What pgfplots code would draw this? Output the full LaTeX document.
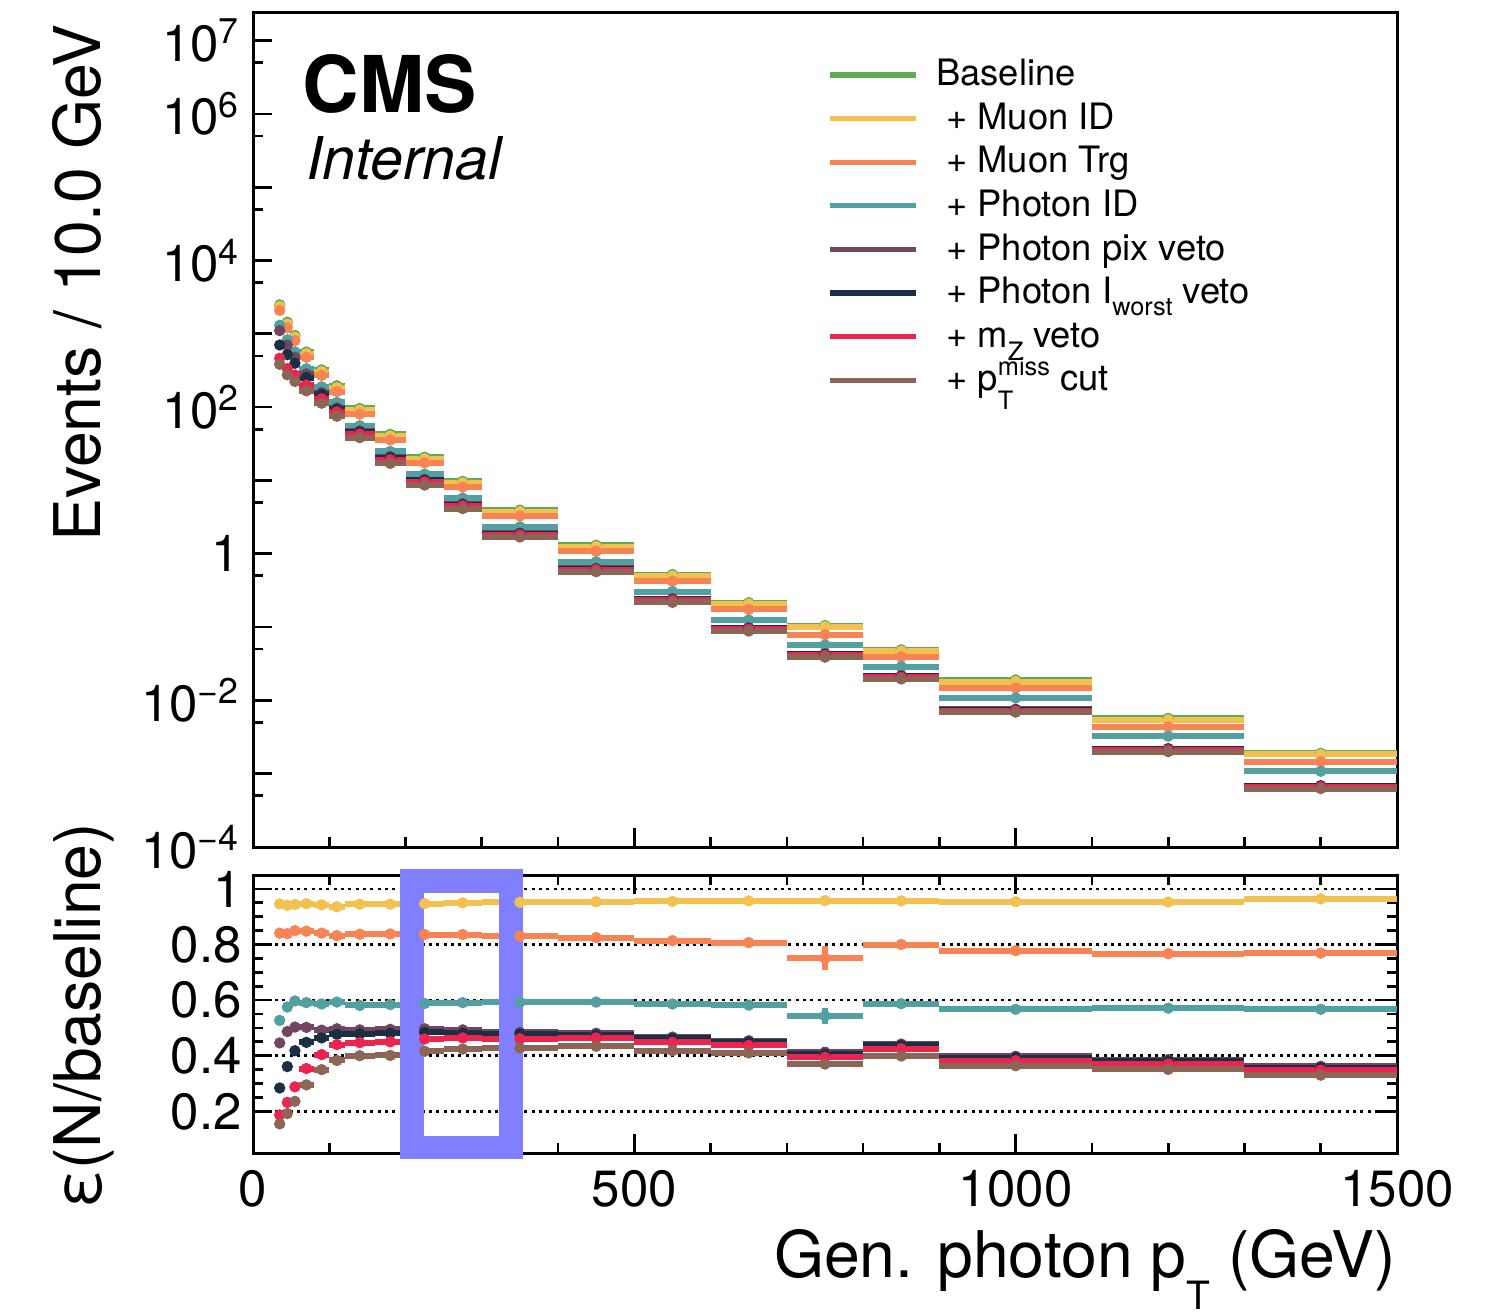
\documentclass[border=0pt]{standalone}
\usepackage{amsmath}
\usepackage{pgfplots}
\pgfplotsset{compat=1.18}
\usepackage{pgfplotstable}
\usepackage{fontspec}
\setmainfont{TeX Gyre Heros}

\definecolor{cBase}{RGB}{94,172,86}
\definecolor{cMuID}{RGB}{243,193,79}
\definecolor{cMuTrg}{RGB}{248,131,84}
\definecolor{cPhID}{RGB}{82,160,160}
\definecolor{cPix}{RGB}{114,70,96}
\definecolor{cIso}{RGB}{26,46,68}
\definecolor{cMZ}{RGB}{236,36,80}
\definecolor{cMET}{RGB}{140,101,86}
\definecolor{cBox}{RGB}{128,128,255}

\newcommand{\lsub}[2]{\raisebox{#1}{\fontsize{7.6}{8}\selectfont #2}}

\pgfplotstableread{
x dx base muid mutrg phid pix iso mz met
35 5 2480 2346 2086 1307 1106 704 464 384
45 5 1440 1355 1208 828 701 520 334 276
55 5 950 897 808 567 478 397 274 224
70 10 565 535 479 334 284 253 200 167
90 10 322 304 271 189 158 149 130 113
110 10 196 183 163 116 97.4 93.5 86.2 75.1
140 20 96 90.7 80.4 55.8 47.3 46.0 42.9 38.4
180 20 42.6 40.3 35.7 24.9 21.1 20.5 19.2 17.1
225 25 20.8 19.7 17.4 12.2 10.3 10.1 9.57 8.65
275 25 9.73 9.24 8.13 5.75 4.80 4.68 4.51 4.13
350 50 3.94 3.75 3.27 2.33 1.91 1.88 1.82 1.69
450 50 1.31 1.25 1.08 0.777 0.630 0.621 0.608 0.569
550 50 0.52 0.497 0.423 0.305 0.243 0.240 0.233 0.217
650 50 0.215 0.206 0.174 0.125 0.0976 0.0965 0.0940 0.0882
750 50 0.105 0.101 0.0788 0.0570 0.0433 0.0425 0.0414 0.0389
850 50 0.049 0.0469 0.0392 0.0288 0.0217 0.0214 0.0208 0.0196
1000 100 0.019 0.0181 0.0148 0.0108 0.00756 0.00747 0.00726 0.00692
1200 100 0.0057 0.00543 0.00437 0.00325 0.00220 0.00217 0.00211 0.00200
1400 100 0.0019 0.00183 0.00146 0.00108 0.000688 0.000678 0.000661 0.000627
}\counts

\pgfplotstableread{
x dx muid mutrg phid pix iso mz met ey eo et ep
35 5 0.946 0.841 0.527 0.446 0.284 0.187 0.155 0.003 0.005 0.005 0.006
45 5 0.941 0.839 0.575 0.487 0.361 0.232 0.192 0.003 0.005 0.005 0.006
55 5 0.944 0.850 0.597 0.503 0.418 0.288 0.236 0.003 0.005 0.005 0.006
70 10 0.947 0.848 0.591 0.502 0.448 0.354 0.295 0.003 0.005 0.005 0.006
90 10 0.943 0.841 0.586 0.492 0.464 0.404 0.350 0.003 0.005 0.005 0.006
110 10 0.936 0.832 0.593 0.497 0.477 0.440 0.383 0.003 0.005 0.005 0.006
140 20 0.945 0.837 0.581 0.493 0.479 0.447 0.400 0.003 0.005 0.005 0.006
180 20 0.945 0.838 0.584 0.495 0.481 0.450 0.401 0.003 0.005 0.005 0.006
225 25 0.947 0.836 0.588 0.497 0.484 0.460 0.416 0.003 0.005 0.005 0.006
275 25 0.950 0.836 0.591 0.493 0.481 0.464 0.424 0.003 0.005 0.005 0.006
350 50 0.952 0.830 0.592 0.484 0.478 0.461 0.428 0.003 0.005 0.005 0.006
450 50 0.954 0.825 0.593 0.481 0.474 0.464 0.434 0.004 0.006 0.007 0.008
550 50 0.955 0.814 0.586 0.467 0.462 0.448 0.418 0.004 0.006 0.007 0.008
650 50 0.957 0.807 0.582 0.454 0.449 0.437 0.410 0.004 0.006 0.007 0.008
750 50 0.958 0.750 0.543 0.412 0.405 0.394 0.370 0.010 0.043 0.030 0.018
850 50 0.957 0.800 0.587 0.442 0.437 0.425 0.399 0.005 0.008 0.008 0.010
1000 100 0.954 0.778 0.567 0.398 0.393 0.382 0.364 0.005 0.008 0.008 0.010
1200 100 0.953 0.767 0.571 0.386 0.381 0.370 0.351 0.005 0.008 0.008 0.010
1400 100 0.964 0.769 0.567 0.362 0.357 0.348 0.330 0.005 0.008 0.008 0.010
}\ratios

\pgfplotsset{
  hist/.style={forget plot, only marks, mark=*, mark size=1.5pt, color=#1,
    mark options={draw=none, fill=#1},
    error bars/x dir=both, error bars/x explicit,
    error bars/error bar style={line width=1.8pt, color=#1},
    error bars/error mark=none},
  histe/.style={hist=#1, error bars/y dir=both, error bars/y explicit},
  cmsaxis/.style={
    scale only axis, width=343.2pt,
    xmin=0, xmax=1500,
    tick align=inside,
    major tick length=5.8pt, minor tick length=3pt,
    axis line style={line width=0.9pt},
    tick style={line width=0.8pt, black},
    tick label style={font=\fontsize{15.3}{17}\selectfont},
    label style={font=\fontsize{19.3}{22}\selectfont},
    xtick={0,500,1000,1500}, minor x tick num=4,
  },
}

\begin{document}
\begin{tikzpicture}[x=1pt,y=1pt]
\path[use as bounding box] (0,0) rectangle (450.3,-394.5);

% ---------------- upper panel ----------------
\begin{axis}[cmsaxis,
  at={(75.9pt,-254.1pt)}, anchor=south west,
  height=250.5pt,
  ymode=log, ymin=1e-4, ymax=2.45e7,
  xtick pos=left, ytick pos=left,
  xticklabels={},
  ytick={1e-4,1e-3,1e-2,1e-1,1,1e1,1e2,1e3,1e4,1e5,1e6,1e7},
  yticklabels={10\textsuperscript{−4},,10\textsuperscript{−2},,1,,10\textsuperscript{2},,10\textsuperscript{4},,10\textsuperscript{6},10\textsuperscript{7}},
  minor ytick={5e-4,5e-3,5e-2,0.5,5,50,500,5e3,5e4,5e5,5e6},
  yticklabel style={inner sep=0pt}, yticklabel shift=3.6pt,
  ylabel={Events / 10.0 GeV},
  ylabel style={at={(axis description cs:-0.1337,0.986)}, anchor=base east, inner sep=0pt},
  legend style={at={(axis description cs:0.5018,0.9497)}, anchor=north west,
    draw=none, fill=none, inner sep=0pt, outer sep=0pt,
    font=\fontsize{10.9}{13}\selectfont,
    row sep=0pt, column sep=5.4pt,
    nodes={inner sep=0pt, text height=9.5pt, text depth=3.58pt, anchor=base west}},
  legend cell align=left,
  legend image code/.code={\draw[#1, line width=1.6pt] (0pt,0.32em) -- (25.8pt,0.32em);},
]
\addplot[hist=cBase]  table[x=x, y=base,  x error=dx] {\counts};
\addplot[hist=cMuID]  table[x=x, y=muid,  x error=dx] {\counts};
\addplot[hist=cMuTrg] table[x=x, y=mutrg, x error=dx] {\counts};
\addplot[hist=cPhID]  table[x=x, y=phid,  x error=dx] {\counts};
\addplot[hist=cPix]   table[x=x, y=pix,   x error=dx] {\counts};
\addplot[hist=cIso]   table[x=x, y=iso,   x error=dx] {\counts};
\addplot[hist=cMZ]    table[x=x, y=mz,    x error=dx] {\counts};
\addplot[hist=cMET]   table[x=x, y=met,   x error=dx] {\counts};

\addlegendimage{color=cBase}  \addlegendentry{Baseline}
\addlegendimage{color=cMuID}  \addlegendentry{\hspace{3pt}+ Muon ID}
\addlegendimage{color=cMuTrg} \addlegendentry{\hspace{3pt}+ Muon Trg}
\addlegendimage{color=cPhID}  \addlegendentry{\hspace{3pt}+ Photon ID}
\addlegendimage{color=cPix}   \addlegendentry{\hspace{3pt}+ Photon pix veto}
\addlegendimage{color=cIso}   \addlegendentry{\hspace{3pt}+ Photon I\lsub{-3.5pt}{worst} veto}
\addlegendimage{color=cMZ}    \addlegendentry{\hspace{3pt}+ m\lsub{-3.9pt}{Z} veto}
\addlegendimage{color=cMET}   \addlegendentry{\hspace{3pt}+ p\rlap{\lsub{-5.5pt}{T}}\lsub{4.5pt}{miss} cut}

\node[anchor=base west, inner sep=0pt, font=\fontsize{23.5}{26}\selectfont\bfseries]
  at (axis description cs:0.0428,0.880) {CMS};
\node[anchor=base west, inner sep=0pt, font=\fontsize{17.7}{20}\selectfont\itshape]
  at (axis description cs:0.046,0.799) {Internal};
\end{axis}

% ---------------- lower panel ----------------
\begin{axis}[cmsaxis,
  at={(75.9pt,-345.9pt)}, anchor=south west,
  height=83.4pt,
  ymin=0.05, ymax=1.05,
  clip=false,
  xtick pos=both, ytick pos=both,
  xticklabels={0,500,1000,1500},
  xticklabel style={inner sep=0pt}, xticklabel shift=5.1pt,
  ytick={0.2,0.4,0.6,0.8,1}, minor y tick num=3,
  yticklabels={0.2,0.4,0.6,0.8,1},
  yticklabel style={inner sep=0pt}, yticklabel shift=3.2pt,
  ymajorgrids,
  grid style={black, line width=0.75pt, dash pattern=on 0.9pt off 1.3pt},
  xlabel={Gen. photon p\raisebox{-9.6pt}{\fontsize{11.7}{12}\selectfont T} (GeV)},
  xlabel style={at={(axis description cs:1,-0.446)}, anchor=base east, inner sep=0pt},
  ylabel={ε(N/baseline)},
  ylabel style={at={(axis description cs:-0.1337,1.19)}, anchor=base east, inner sep=0pt},
]
\addplot[histe=cMuID]  table[x=x, y=muid,  x error=dx, y error=ey] {\ratios};
\addplot[histe=cMuTrg] table[x=x, y=mutrg, x error=dx, y error=eo] {\ratios};
\addplot[histe=cPhID]  table[x=x, y=phid,  x error=dx, y error=et] {\ratios};
\addplot[histe=cPix]   table[x=x, y=pix,   x error=dx, y error=ep] {\ratios};
\addplot[histe=cIso]   table[x=x, y=iso,   x error=dx, y error=ep] {\ratios};
\addplot[histe=cMZ]    table[x=x, y=mz,    x error=dx, y error=ep] {\ratios};
\addplot[histe=cMET]   table[x=x, y=met,   x error=dx, y error=ep] {\ratios};
\draw[cBox, line width=7.1pt] (axis cs:208.1,1.0276) rectangle (axis cs:338.3,0.070);
\end{axis}
\end{tikzpicture}
\end{document}
